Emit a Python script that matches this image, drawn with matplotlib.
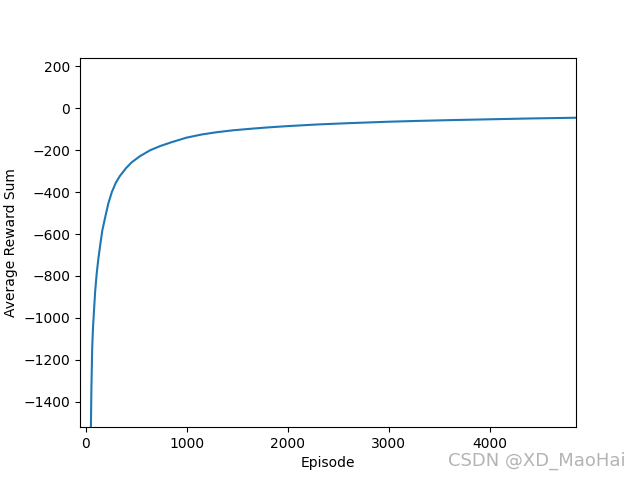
import numpy as np
from matplotlib import pyplot as plt

# values
episode = [40, 53, 58, 66, 74, 83, 95, 110, 125, 143, 165, 192, 225, 260, 300,
           340, 400, 456, 540, 640, 740, 850, 1000, 1150, 1300, 1460, 1650, 1810,
           2000, 2300, 2600, 3000, 3300, 3600, 4000, 4400, 4855]
reward = [-2000, -1520, -1330, -1140, -1045, -970, -875, -790, -725, -660, -585,
          -525, -455, -400, -355, -323, -286, -258, -228, -200, -180, -162, -140,
          -125, -114, -105, -97, -91, -85, -77, -71, -64, -60, -56.5, -52.5,
          -48.5, -45]

fig = plt.figure(figsize=(6.4, 4.8), dpi=100)
plt.plot(episode, reward)
plt.xlim(-55, 4855)
plt.ylim(-1522, 242)
plt.xlabel('Episode')
plt.ylabel('Average Reward Sum')

fig.text(0.977, 0.04, 'CSDN @XD_MaoHai', color='#b4b4b4', fontsize=13,
         ha='right', va='center')

plt.savefig('out.png')
